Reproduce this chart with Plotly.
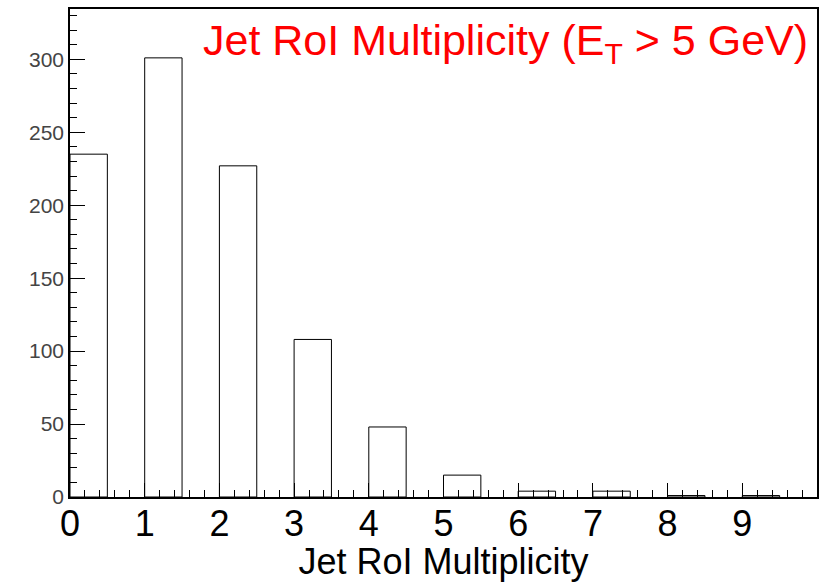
import plotly.graph_objects as go

bin_starts = [0, 1, 2, 3, 4, 5, 6, 7, 8, 9]
counts = [235, 301, 227, 108, 48, 15, 4, 4, 1, 1]
bin_width = 0.5
x_ticks = [0, 1, 2, 3, 4, 5, 6, 7, 8, 9]
y_ticks = [0, 50, 100, 150, 200, 250, 300]

centers = [s + bin_width / 2 for s in bin_starts]

fig = go.Figure()
fig.add_trace(go.Bar(
    x=centers, y=counts, width=bin_width,
    marker=dict(color="white", line=dict(color="black", width=1)),
))

fig.update_layout(
    width=826, height=582,
    margin=dict(l=70, r=8, t=7, b=85),
    plot_bgcolor="white", paper_bgcolor="white",
    showlegend=False,
    font=dict(family="Liberation Sans, Arial, sans-serif"),
    xaxis=dict(
        range=[0, 10], tickvals=x_ticks, ticktext=[str(v) for v in x_ticks],
        ticks="inside", ticklen=14, tickwidth=1, tickcolor="black",
        minor=dict(dtick=0.2, ticks="inside", ticklen=7, tickcolor="black", tickwidth=1),
        showline=True, linecolor="black", linewidth=1.5, mirror=True,
        showgrid=False, zeroline=False,
        tickfont=dict(size=36, color="black"),
        ticklabelstandoff=-6,
        title=dict(text="Jet RoI Multiplicity", font=dict(size=36, color="black"), standoff=2),
    ),
    yaxis=dict(
        range=[0, 334.5], tickvals=y_ticks,
        ticks="inside", ticklen=15, tickwidth=1, tickcolor="black",
        minor=dict(dtick=10, ticks="inside", ticklen=7, tickcolor="black", tickwidth=1),
        showline=True, linecolor="black", linewidth=1.5, mirror=True,
        showgrid=False, zeroline=False,
        tickfont=dict(size=21, color="#444444"),
        ticklabelstandoff=0,
    ),
    annotations=[dict(
        text="Jet RoI Multiplicity (E<sub>T</sub> &gt; 5 GeV)",
        xref="paper", yref="paper", x=0.99, y=0.99, xanchor="right", yanchor="top",
        showarrow=False, font=dict(size=43, color="red"),
        bgcolor="white",
    )],
)

fig.write_html("out.html")
